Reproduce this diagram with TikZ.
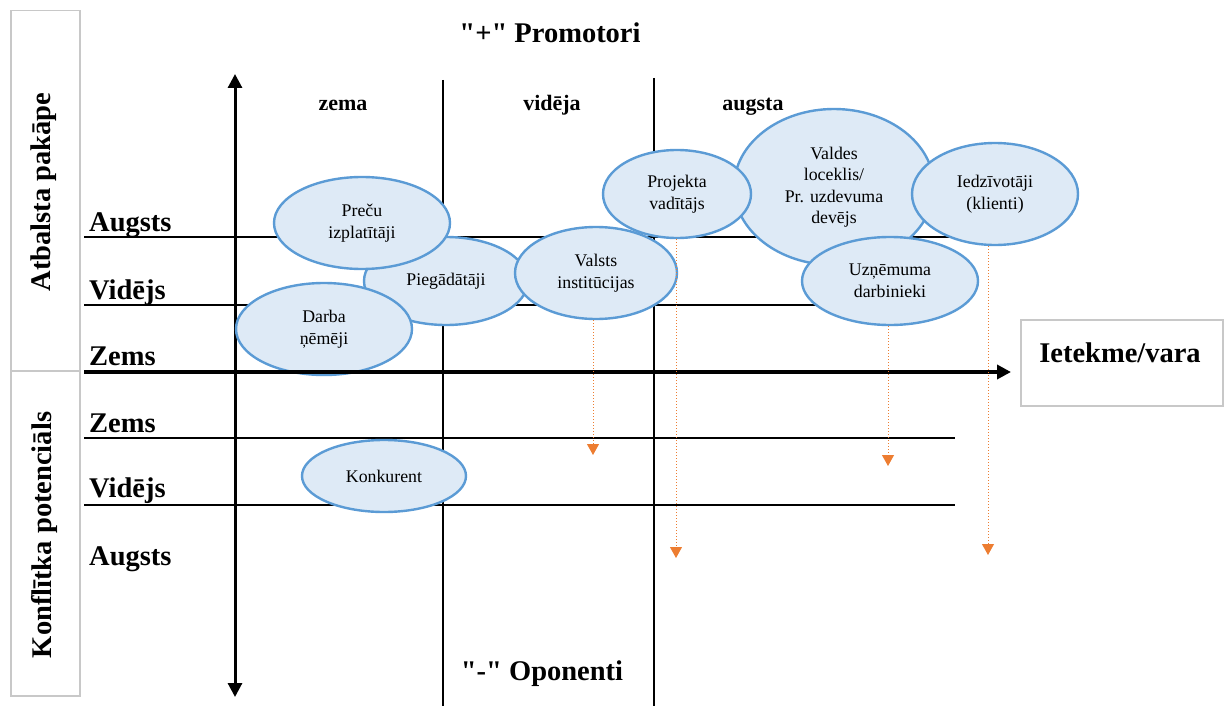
\documentclass[tikz,border=0pt]{standalone}
\usepackage{fontspec}
\setmainfont{Liberation Serif}
\newfontfamily\qfont{Liberation Serif}
\usetikzlibrary{shapes.geometric,arrows.meta}
\definecolor{ellfill}{HTML}{DEEAF6}
\definecolor{elldraw}{HTML}{5B9BD5}
\definecolor{orng}{HTML}{ED7D31}
\definecolor{boxgray}{HTML}{C8C8C8}
\newcommand{\dq}{{\qfont\bfseries "}}
\tikzset{
  ell/.style={ellipse, draw=elldraw, fill=ellfill, line width=2.4pt, inner sep=0pt, align=center,
    font=\fontsize{17.8}{21.5}\selectfont},
  lbl/.style={font=\bfseries\fontsize{28.5}{32}\selectfont, inner sep=0pt},
  hdr/.style={font=\bfseries\fontsize{22}{26}\selectfont, inner sep=0pt},
  grid/.style={line width=2pt, black},
  oarrow/.style={orng, dotted, line width=1pt, -{Triangle[width=12pt,length=11pt,fill=orng]}},
  sidebox/.style={draw=boxgray, line width=1.5pt}
}
\begin{document}
\begin{tikzpicture}[x=1pt,y=-1pt]
\useasboundingbox (0,0) rectangle (1226,706);
% side boxes
\node[sidebox, minimum width=69pt, minimum height=360pt, anchor=north west] (topbox) at (10,10) {};
\node[sidebox, minimum width=69pt, minimum height=325pt, anchor=north west] (botbox) at (10,370) {};
\node[lbl, rotate=90] (atb) at (44,192) {Atbalsta pakāpe};
\node[lbl, rotate=90] (konf) at (44,535) {Konflītka potenciāls};
% titles
\node[lbl, anchor=base] (prom) at (550,43) {\dq+\dq{} Promotori};
\node[lbl, anchor=base] (opon) at (542,680) {\dq-\dq{} Oponenti};
\node[hdr, anchor=base] (zema) at (343,111) {zema};
\node[hdr, anchor=base] (videja) at (552,111) {vidēja};
\node[hdr, anchor=base] (augsta) at (753,111) {augsta};
% row labels
\node[lbl, anchor=base west] (l1) at (89,231) {Augsts};
\node[lbl, anchor=base west] (l2) at (89,299) {Vidējs};
\node[lbl, anchor=base west] (l3) at (89,365) {Zems};
\node[lbl, anchor=base west] (l4) at (89,432) {Zems};
\node[lbl, anchor=base west] (l5) at (89,497) {Vidējs};
\node[lbl, anchor=base west] (l6) at (89,565) {Augsts};
% grid lines
\coordinate (a1) at (84,237); \coordinate (a2) at (950,237);
\coordinate (b1) at (84,305); \coordinate (b2) at (900,305);
\coordinate (c1) at (84,438); \coordinate (c2) at (955,438);
\coordinate (d1) at (84,505); \coordinate (d2) at (955,505);
\draw[grid] (a1) -- (a2);
\draw[grid] (b1) -- (b2);
\draw[grid] (c1) -- (c2);
\draw[grid] (d1) -- (d2);
\coordinate (v1t) at (443,80); \coordinate (v1b) at (443,706);
\coordinate (v2t) at (654,78); \coordinate (v2b) at (654,706);
\draw[grid] (v1t) -- (v1b);
\draw[grid] (v2t) -- (v2b);
% vertical axis
\coordinate (yt) at (235,74); \coordinate (yb) at (235,697);
\draw[line width=3pt, {Triangle[width=14pt,length=14pt]}-{Triangle[width=14pt,length=14pt]}] (yb) -- (yt);
% ietekme box
\node[sidebox, minimum width=202pt, minimum height=86pt, anchor=north west] (iet) at (1020,319) {};
\node[lbl, anchor=base] (iettxt) at (1120,362) {Ietekme/vara};
% ellipses
\node[ell, minimum width=164pt, minimum height=88pt] (pieg) at (446,281) {Piegādātāji};
\node[ell, minimum width=176pt, minimum height=92pt] (prec) at (362,223) {Preču\\izplatītāji};
\node[ell, minimum width=176pt, minimum height=92pt] (darba) at (324,329) {Darba\\ņēmēji};
\node[ell, minimum width=162pt, minimum height=92pt] (valsts) at (596,273) {Valsts\\institūcijas};
\node[ell, minimum width=200pt, minimum height=156pt] (valdes) at (834,187) {Valdes\\loceklis/\\Pr. uzdevuma\\devējs};
\node[ell, minimum width=148pt, minimum height=88pt] (proj) at (677,194) {Projekta\\vadītājs};
\node[ell, minimum width=166pt, minimum height=102pt] (iedz) at (995,194) {Iedzīvotāji\\(klienti)};
\node[ell, minimum width=176pt, minimum height=88pt] (uzn) at (890,281) {Uzņēmuma\\darbinieki};
\node[ell, minimum width=164pt, minimum height=72pt] (konk) at (384,476) {Konkurent};
% main horizontal axis
\coordinate (xl) at (84,372); \coordinate (xr) at (1011,372);
\draw[line width=3.5pt, -{Triangle[width=14pt,length=14pt]}] (xl) -- (xr);
% orange dotted arrows
\coordinate (t1) at (593,455);
\coordinate (t2) at (676,558);
\coordinate (t3) at (888,466);
\coordinate (t4) at (988,555);
\draw[oarrow] (valsts.south -| t1) -- (t1);
\draw[oarrow] (proj.south -| t2) -- (t2);
\draw[oarrow] (uzn.south -| t3) -- (t3);
\draw[oarrow] (iedz.south -| t4) -- (t4);
\end{tikzpicture}
\end{document}
